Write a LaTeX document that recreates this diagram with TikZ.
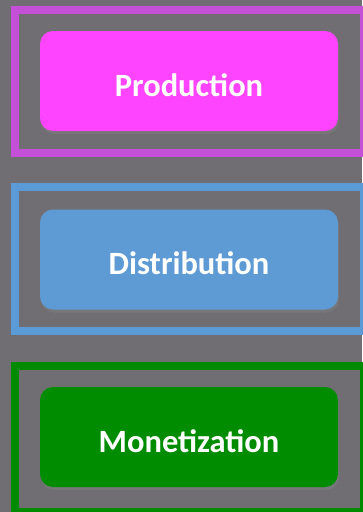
\documentclass[tikz,border=0pt]{standalone}
\usepackage{fontspec}
\setmainfont{Carlito}
\usetikzlibrary{shadows}
\definecolor{bg}{RGB}{112,110,114}
\definecolor{pframe}{RGB}{196,80,216}
\definecolor{pbox}{RGB}{255,68,255}
\definecolor{bframe}{RGB}{90,155,215}
\definecolor{bbox}{RGB}{94,154,212}
\definecolor{gframe}{RGB}{0,138,0}
\definecolor{gbox}{RGB}{0,140,0}
\tikzset{
  frame/.style={line width=8pt},
  stagebox/.style={rounded corners=13pt, minimum width=298pt, minimum height=100pt,
    inner sep=0pt,
    drop shadow={shadow xshift=1pt, shadow yshift=-3pt, opacity=0.45}},
  stagetext/.style={text=white, inner sep=0pt, font=\fontsize{32.5}{38}\selectfont\bfseries},
}
\begin{document}
\begin{tikzpicture}[x=1pt,y=-1pt]
\useasboundingbox (0,0) rectangle (362,512);
\fill[bg] (0,0) rectangle (362,512);
% frames
\draw[frame, pframe] (15,9.5) rectangle (364,153);
\draw[frame, bframe] (15,187) rectangle (364,331);
\draw[frame, gframe] (15,366) rectangle (364,512);
% boxes
\node[stagebox, fill=pbox] (prod) at (189,81) {};
\node[stagebox, fill=bbox] (dist) at (189,259.5) {};
\node[stagebox, fill=gbox] (mon) at (189,437) {};
\node[stagetext] (prodt) at (189,85) {Production};
\node[stagetext] (distt) at (189,263.5) {Distribution};
\node[stagetext] (mont) at (189,441) {Monetization};
\end{tikzpicture}
\end{document}
